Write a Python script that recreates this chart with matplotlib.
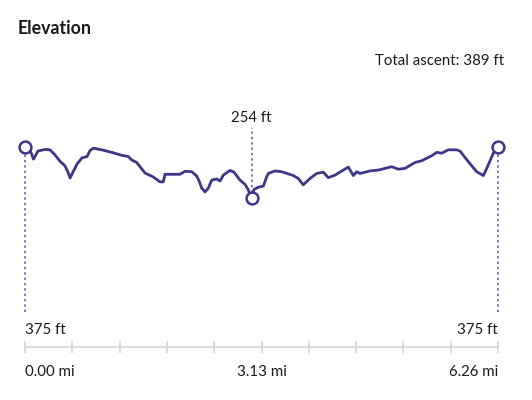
import matplotlib
matplotlib.use("Agg")
import matplotlib.pyplot as plt
import numpy as np

# ---- data ----
distance_mi = [0.000, 0.066, 0.112, 0.172, 0.265, 0.331, 0.397, 0.463, 0.529, 0.569,
               0.596, 0.635, 0.688, 0.754, 0.821, 0.860, 0.904, 1.015, 1.148, 1.280,
               1.367, 1.412, 1.478, 1.522, 1.588, 1.694, 1.787, 1.830, 1.853, 2.051,
               2.118, 2.206, 2.272, 2.309, 2.339, 2.382, 2.426, 2.471, 2.537, 2.581,
               2.625, 2.713, 2.766, 2.846, 2.912, 2.955, 3.000, 3.031, 3.084, 3.154,
               3.183, 3.199, 3.220, 3.309, 3.398, 3.551, 3.617, 3.683, 3.772, 3.861,
               3.948, 4.014, 4.103, 4.213, 4.279, 4.345, 4.390, 4.434, 4.566, 4.676,
               4.765, 4.853, 4.941, 5.030, 5.162, 5.250, 5.383, 5.449, 5.515, 5.602,
               5.713, 5.757, 5.867, 5.978, 6.066, 6.111, 6.198, 6.260]
elevation_ft = [375, 369, 347, 366, 370, 369, 357, 342, 331, 316,
                302, 316, 335, 350, 353, 367, 373, 369, 363, 356,
                353, 345, 339, 329, 314, 305, 293, 293, 311, 311,
                318, 317, 307, 293, 278, 269, 278, 297, 300, 295,
                309, 320, 316, 297, 287, 274, 254, 275, 280, 283,
                297, 305, 313, 319, 317, 308, 301, 286, 301, 313,
                316, 303, 309, 321, 328, 308, 317, 313, 319, 321,
                325, 329, 323, 325, 339, 343, 355, 363, 361, 369,
                369, 366, 341, 317, 308, 325, 361, 375]
total_distance = 6.26
total_ascent = 389
x_tick_values = [0.00, 3.13, 6.26]
x_tick_labels = ["0.00 mi", "3.13 mi", "6.26 mi"]

# ---- style ----
LINE = "#3d3886"
GRAY = "#d8d5d2"
TEXT = "#1a1a1a"
FONT = "Lato"
FS = 10.8

W, H = 532, 400
fig = plt.figure(figsize=(W / 100, H / 100), dpi=100)

# axes geometry in pixels
left_px, right_px = 25, 498
top_px, bottom_px = 100, 347
ax = fig.add_axes([left_px / W, 1 - bottom_px / H,
                   (right_px - left_px) / W, (bottom_px - top_px) / H])

# vertical mapping: start elevation at pixel 147.3, min at 198.3
start_px, min_px = 147.3, 198.3
e_start = elevation_ft[0]
e_min = min(elevation_ft)
ft_per_px = (e_start - e_min) / (min_px - start_px)
def px_to_ft(py):
    return e_start - (py - start_px) * ft_per_px

ax.set_xlim(0, total_distance)
ax.set_ylim(px_to_ft(bottom_px), px_to_ft(top_px))

# profile line
ax.plot(distance_mi, elevation_ft, color=LINE, lw=2.0, solid_joinstyle="round",
        solid_capstyle="round", zorder=3, clip_on=False)

# markers: start, end, min
i_min = int(np.argmin(elevation_ft))
mk_x = [distance_mi[0], distance_mi[-1], distance_mi[i_min]]
mk_y = [elevation_ft[0], elevation_ft[-1], elevation_ft[i_min]]
ax.plot(mk_x, mk_y, "o", ms=8.5, mfc="white", mec=LINE, mew=1.8,
        zorder=5, clip_on=False)

# dotted leader lines
dot_kw = dict(color="#5a55a0", lw=1.1, linestyles=(0, (1.5, 2)), zorder=2, clip_on=False)
ax.vlines([distance_mi[0], distance_mi[-1]], px_to_ft(312), elevation_ft[0], **dot_kw)
ax.vlines([distance_mi[i_min]], elevation_ft[i_min], px_to_ft(128), **dot_kw)

# labels
ax.text(distance_mi[i_min], px_to_ft(118), f"{e_min} ft", ha="center", va="center",
        fontsize=FS, family=FONT, color=TEXT)
ax.text(distance_mi[0], px_to_ft(330), f"{elevation_ft[0]} ft", ha="left", va="center",
        fontsize=FS, family=FONT, color=TEXT)
ax.text(distance_mi[-1], px_to_ft(330), f"{elevation_ft[-1]} ft", ha="right", va="center",
        fontsize=FS, family=FONT, color=TEXT)

# x axis
for s in ["top", "left", "right"]:
    ax.spines[s].set_visible(False)
ax.spines["bottom"].set_color(GRAY)
ax.spines["bottom"].set_linewidth(1.2)
ax.set_yticks([])
ticks = np.linspace(0, total_distance, 11)
ax.set_xticks(ticks)
ax.set_xticklabels([""] * len(ticks))
ax.tick_params(axis="x", direction="inout", length=8, width=1.2, color=GRAY)
has = ["left", "center", "right"]
for v, lab, ha in zip(x_tick_values, x_tick_labels, has):
    ax.text(v, px_to_ft(371.5), lab, ha=ha, va="center", fontsize=FS,
            family=FONT, color=TEXT, clip_on=False)

# title and total ascent
fig.text(18 / W, 1 - 28 / H, "Elevation", ha="left", va="center",
         fontsize=12.8, fontweight="bold", family=FONT, color=TEXT)
fig.text(504 / W, 1 - 61 / H, f"Total ascent: {total_ascent} ft", ha="right",
         va="center", fontsize=FS, family=FONT, color=TEXT)

fig.savefig("out.png", dpi=100, facecolor="white")
